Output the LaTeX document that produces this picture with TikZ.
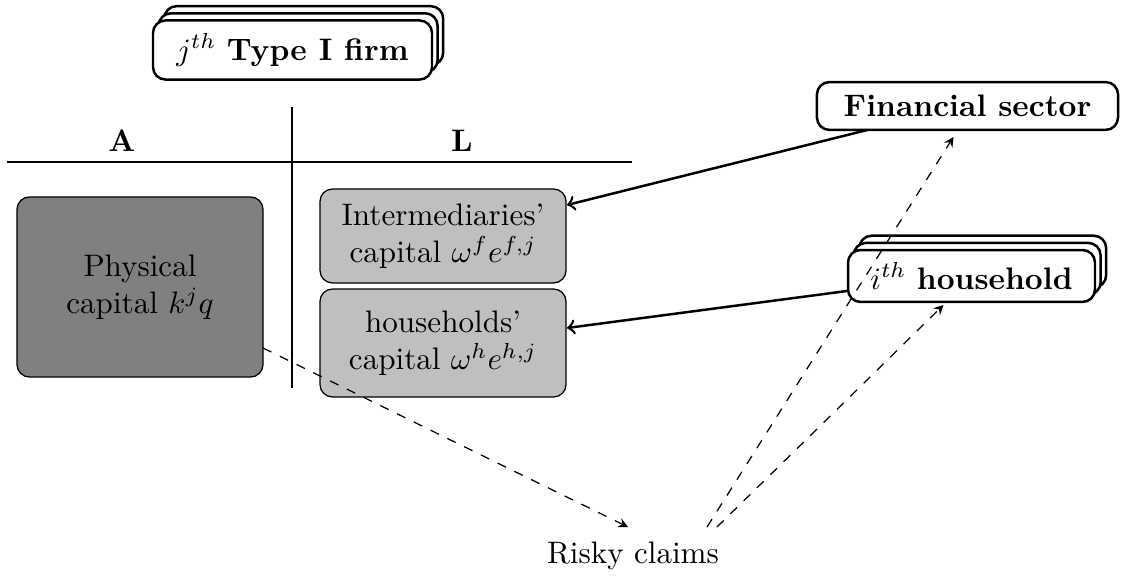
\documentclass[tikz,border=0pt]{standalone}
\usetikzlibrary{shadows,calc}
\begin{document}
\begin{tikzpicture}[x=0.3215pt,y=-0.3215pt,
  stackbox/.style={draw=black, thick, rounded corners=4pt, fill=white, inner sep=0pt, outer sep=0pt,
    copy shadow={shadow xshift=3.6pt,shadow yshift=4.6pt,draw=black,thick,fill=white},
    copy shadow={shadow xshift=1.8pt,shadow yshift=2.3pt,draw=black,thick,fill=white}},
  plainbox/.style={draw=black, thick, rounded corners=4pt, fill=white, inner sep=0pt, outer sep=0pt},
  assetbox/.style={draw=black, rounded corners=4pt, fill=gray, inner sep=0pt, outer sep=0pt,
    align=center, minimum width=79.1pt},
  liabbox/.style={draw=black, rounded corners=4pt, fill=lightgray, inner sep=0pt, outer sep=0pt,
    align=center, minimum width=79.1pt},
  flow/.style={thick,->},
  claim/.style={dashed,-stealth},
  rule/.style={thick}
]
\useasboundingbox (0,0) rectangle (1125,578);

% T-account
\coordinate (hl) at (7,162);
\coordinate (hr) at (632,162);
\coordinate (vt) at (292,107);
\coordinate (vb) at (292,388);
\draw[rule] (hl) -- (hr);
\draw[rule] (vt) -- (vb);
\node (A) at (122,141) {\textbf{A}};
\node (L) at (462,141) {\textbf{L}};

% nodes
\node[stackbox, minimum width=89.7pt, minimum height=19pt] (firm) at (292.5,50) {$j^{th}$ \textbf{Type I firm}};
\node[plainbox, minimum width=96.8pt, minimum height=15.4pt] (fs) at (967.5,106) {\textbf{Financial sector}};
\node[stackbox, minimum width=79.4pt, minimum height=16.7pt] (hh) at (971.5,276) {$i^{th}$ \textbf{household}};

\node[assetbox, minimum height=57.9pt] (phys) at (140,287) {Physical\\capital $k^jq$};
\node[liabbox, minimum height=30.2pt] (inter) at (443,236) {Intermediaries'\\capital $\omega^f e^{f,j}$};
\node[liabbox, minimum height=34.7pt] (hcap) at (443,343) {households'\\capital $\omega^h e^{h,j}$};

\node (risky) at (633,556) {Risky claims};

% solid flows
\draw[flow] ($(fs.south)+(-100,0)$) -- ($(inter.east)+(1,-31)$);
\draw[flow] ($(hh.west)+(-1,15)$) -- ($(hcap.east)+(1,-15)$);

% dashed claims
\coordinate (rin) at ($(risky.north)+(-5,-4)$);
\coordinate (rout1) at ($(risky.north)+(74,-4)$);
\coordinate (rout2) at ($(risky.north)+(84,-4)$);
\draw[claim] ($(phys.east)+(0,61)$) -- (rin);
\draw[claim] (rout1) -- ($(fs.south)+(-14,7)$);
\draw[claim] (rout2) -- ($(hh.south)+(-28,3)$);
\end{tikzpicture}
\end{document}
